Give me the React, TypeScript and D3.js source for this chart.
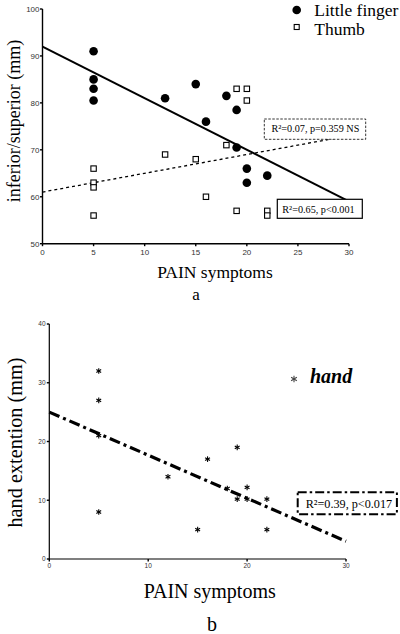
import React from "react";
import * as d3 from "d3";

// ---- Panel a data ----
const littleX = [5, 5, 5, 5, 12, 15, 16, 18, 19, 19, 20, 20, 22];
const littleY = [91, 85, 83, 80.5, 81, 84, 76, 81.5, 78.5, 70.5, 66, 63, 64.5];
const thumbX = [5, 5, 5, 5, 12, 15, 16, 18, 19, 19, 20, 20, 22, 22];
const thumbY = [66, 63, 62, 56, 69, 68, 60, 71, 83, 57, 83, 80.5, 57, 56];
const littleFit = [92, -1.1]; // intercept, slope
const thumbFit = [61, 0.4];
const aXTicks = [0, 5, 10, 15, 20, 25, 30];
const aYTicks = [50, 60, 70, 80, 90, 100];

// ---- Panel b data ----
const handX = [5, 5, 5, 5, 12, 15, 16, 18, 19, 19, 20, 20, 22, 22];
const handY = [32, 27, 21, 8, 14, 5, 17, 12, 19, 10.2, 12.2, 10.2, 10.2, 5];
const handFit = [25, -0.733];
const bXTicks = [0, 10, 20, 30];
const bYTicks = [0, 10, 20, 30, 40];

const SERIF = "'Liberation Serif', 'Times New Roman', serif";
const SANS = "'Liberation Sans', Arial, sans-serif";

function Asterisk({ cx, cy, r, color = "#000", w = 1 }: any) {
  const lines = [90, 30, -30].map((deg) => {
    const a = (deg * Math.PI) / 180;
    return (
      <line
        key={deg}
        x1={cx - r * Math.cos(a)}
        y1={cy - r * Math.sin(a)}
        x2={cx + r * Math.cos(a)}
        y2={cy + r * Math.sin(a)}
        stroke={color}
        strokeWidth={w}
      />
    );
  });
  return <g>{lines}</g>;
}

export default function App() {
  // Panel a scales
  const ax = d3.scaleLinear().domain([0, 30]).range([42.5, 349]);
  const ay = d3.scaleLinear().domain([50, 100]).range([243.7, 9]);
  // Panel b scales
  const bx = d3.scaleLinear().domain([0, 30]).range([49.3, 346]);
  const by = d3.scaleLinear().domain([0, 40]).range([559, 324]);

  const fitLine = (fit: number[], sx: any, sy: any) =>
    d3.line<number>()
      .x((d) => sx(d))
      .y((d) => sy(fit[0] + fit[1] * d))([0, 30]) as string;

  return (
    <svg
      width={400}
      height={634}
      style={{ position: "absolute", left: 0, top: 0, background: "#fff" }}
    >
      <rect x={0} y={0} width={400} height={634} fill="#fff" />
      {/* ===== Panel a ===== */}
      <g>
        {/* axes */}
        <line x1={ax(0)} x2={ax(0)} y1={ay(100)} y2={ay(50)} stroke="#000" strokeWidth={1.4} />
        <line x1={ax(0)} x2={ax(30)} y1={ay(50)} y2={ay(50)} stroke="#000" strokeWidth={1.4} />
        {aYTicks.map((t) => (
          <g key={"ay" + t}>
            <line x1={ax(0) - 2.5} x2={ax(0)} y1={ay(t)} y2={ay(t)} stroke="#000" strokeWidth={1.4} />
            <text x={39.5} y={ay(t) + 2.9} textAnchor="end" fontFamily={SANS} fontSize={8} fill="#333">
              {t}
            </text>
          </g>
        ))}
        {aXTicks.map((t) => (
          <g key={"ax" + t}>
            <line x1={ax(t)} x2={ax(t)} y1={ay(50)} y2={ay(50) + 2.5} stroke="#000" strokeWidth={1.4} />
            <text x={ax(t)} y={254.5} textAnchor="middle" fontFamily={SANS} fontSize={8} fill="#333">
              {t}
            </text>
          </g>
        ))}
        {/* regression lines */}
        <path d={fitLine(littleFit, ax, ay)} stroke="#000" strokeWidth={2} fill="none" />
        <path d={fitLine(thumbFit, ax, ay)} stroke="#000" strokeWidth={1.3} strokeDasharray="3,3" fill="none" />
        {/* points */}
        {thumbX.map((x, i) => (
          <rect
            key={"th" + i}
            x={ax(x) - 2.7}
            y={ay(thumbY[i]) - 2.7}
            width={5.4}
            height={5.4}
            fill="#fff"
            stroke="#000"
            strokeWidth={1.1}
          />
        ))}
        {littleX.map((x, i) => (
          <circle key={"lf" + i} cx={ax(x)} cy={ay(littleY[i])} r={4.3} fill="#000" />
        ))}
        {/* stats boxes */}
        <rect x={264.3} y={119} width={101.4} height={20.3} fill="#fff" stroke="#000" strokeWidth={0.8} strokeDasharray="2.5,1.5" />
        <text x={271.5} y={131.8} fontFamily={SERIF} fontSize={10.2} fill="#000">
          R²=0.07, p=0.359 NS
        </text>
        <rect x={277.3} y={199.3} width={85} height={19} fill="#fff" stroke="#000" strokeWidth={1.2} />
        <text x={282.3} y={212.7} fontFamily={SERIF} fontSize={10.2} fill="#000">
          R²=0.65, p&lt;0.001
        </text>
        {/* legend */}
        <circle cx={296.7} cy={10} r={4.3} fill="#000" />
        <text x={314.3} y={15.5} fontFamily={SERIF} fontSize={17.5} fill="#000">
          Little finger
        </text>
        <rect x={294.2} y={24.5} width={5} height={5} fill="#fff" stroke="#000" strokeWidth={1.1} />
        <text x={314.3} y={35} fontFamily={SERIF} fontSize={17.5} fill="#000">
          Thumb
        </text>
        {/* axis labels */}
        <text
          transform={`translate(20,121) rotate(-90)`}
          textAnchor="middle"
          fontFamily={SERIF}
          fontSize={18}
          fill="#000"
        >
          inferior/superior (mm)
        </text>
        <text x={215} y={278.3} textAnchor="middle" fontFamily={SERIF} fontSize={17.5} fill="#000">
          PAIN symptoms
        </text>
        <text x={196} y={300} textAnchor="middle" fontFamily={SERIF} fontSize={17} fill="#000">
          a
        </text>
      </g>

      {/* ===== Panel b ===== */}
      <g>
        <line x1={bx(0)} x2={bx(0)} y1={by(40)} y2={by(0)} stroke="#000" strokeWidth={1.2} />
        <line x1={bx(0)} x2={bx(30)} y1={by(0)} y2={by(0)} stroke="#000" strokeWidth={1.2} />
        {bYTicks.map((t) => (
          <g key={"by" + t}>
            <line x1={bx(0) - 2.5} x2={bx(0)} y1={by(t)} y2={by(t)} stroke="#000" strokeWidth={1.4} />
            <text x={45.5} y={by(t) + 2.3} textAnchor="end" fontFamily={SANS} fontSize={6.5} fill="#333">
              {t}
            </text>
          </g>
        ))}
        {bXTicks.map((t) => (
          <g key={"bx" + t}>
            <line x1={bx(t)} x2={bx(t)} y1={by(0)} y2={by(0) + 2.5} stroke="#000" strokeWidth={1.4} />
            <text x={bx(t)} y={567.5} textAnchor="middle" fontFamily={SANS} fontSize={6.5} fill="#333">
              {t}
            </text>
          </g>
        ))}
        <path
          d={fitLine(handFit, bx, by)}
          stroke="#000"
          strokeWidth={3.2}
          strokeDasharray="11,4,3,4"
          fill="none"
        />
        {handX.map((x, i) => (
          <Asterisk key={"h" + i} cx={bx(x)} cy={by(handY[i])} r={2.8} w={1.1} />
        ))}
        {/* stats box */}
        <rect
          x={297.7}
          y={492.3}
          width={99.2}
          height={22}
          fill="#fff"
          stroke="#000"
          strokeWidth={2}
          strokeDasharray="9,3,2.5,3"
        />
        <text x={305.7} y={508.3} fontFamily={SERIF} fontSize={12.2} fill="#000">
          R²=0.39, p&lt;0.017
        </text>
        {/* legend */}
        <Asterisk cx={294} cy={379} r={3.3} color="#444" w={1.1} />
        <text x={310} y={383} fontFamily={SERIF} fontSize={20} fontWeight="bold" fontStyle="italic" fill="#000">
          hand
        </text>
        {/* axis labels */}
        <text
          transform={`translate(21.5,442.5) rotate(-90)`}
          textAnchor="middle"
          fontFamily={SERIF}
          fontSize={20.3}
          fill="#000"
        >
          hand extention (mm)
        </text>
        <text x={209.7} y={598} textAnchor="middle" fontFamily={SERIF} fontSize={20} fill="#000">
          PAIN symptoms
        </text>
        <text x={212} y={631} textAnchor="middle" fontFamily={SERIF} fontSize={20} fill="#000">
          b
        </text>
      </g>
    </svg>
  );
}
